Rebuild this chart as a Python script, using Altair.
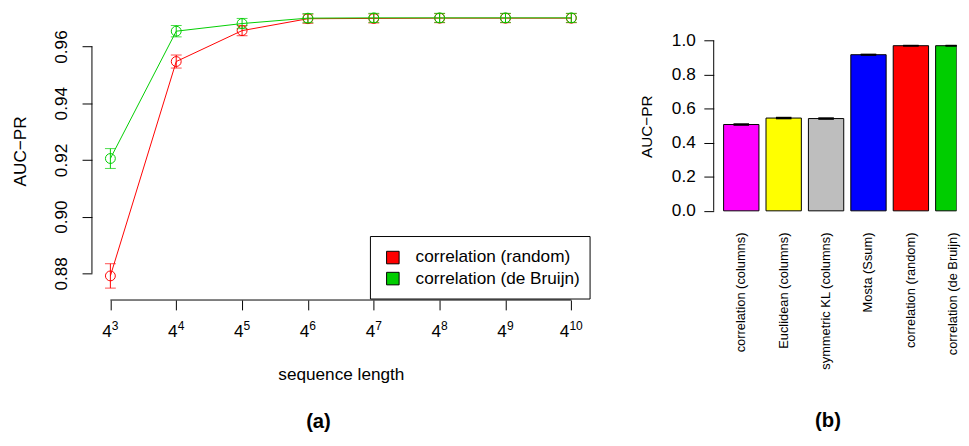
import altair as alt
import pandas as pd

FONT = "Liberation Sans"
FS = 17.4  # base font size (R cex = 1)

# ---------------- panel (a) data ----------------
exponents = [3, 4, 5, 6, 7, 8, 9, 10]
series_names = ["correlation (random)", "correlation (de Bruijn)"]
series_colors = ["#FF0000", "#00CD00"]
random_auc = [0.8791, 0.9547, 0.9656, 0.9698, 0.9699, 0.9700, 0.9700, 0.9700]
random_err = [0.0043, 0.0023, 0.0018, 0.0016, 0.0016, 0.0016, 0.0016, 0.0016]
debruijn_auc = [0.9205, 0.9654, 0.9681, 0.9700, 0.9701, 0.9701, 0.9701, 0.9701]
debruijn_err = [0.0035, 0.0020, 0.0018, 0.0016, 0.0016, 0.0016, 0.0016, 0.0016]
y_ticks_a = [0.88, 0.90, 0.92, 0.94, 0.96]

# ---------------- panel (b) data ----------------
methods = ["correlation (columns)", "Euclidean (columns)", "symmetric KL (columns)",
           "Mosta (Ssum)", "correlation (random)", "correlation (de Bruijn)"]
method_colors = ["#FF00FF", "#FFFF00", "#BEBEBE", "#0000FF", "#FF0000", "#00CD00"]
method_auc = [0.507, 0.545, 0.542, 0.917, 0.970, 0.970]
method_err = [0.003, 0.003, 0.003, 0.002, 0.001, 0.001]
y_ticks_b = [0.0, 0.2, 0.4, 0.6, 0.8, 1.0]

W_A, H_A = 504.1, 293.0
W_B, H_B = 246.0, 380.0

rows = []
for name, vals, errs in [(series_names[0], random_auc, random_err),
                         (series_names[1], debruijn_auc, debruijn_err)]:
    for e, v, er in zip(exponents, vals, errs):
        rows.append({"series": name, "exp": e, "auc": v, "lo": v - er, "hi": v + er})
df_a = pd.DataFrame(rows)

xs = alt.Scale(domain=[2.72, 10.28], nice=False, zero=False)
ys = alt.Scale(domain=[0.8706, 0.97264], nice=False, zero=False)
cs = alt.Scale(domain=series_names, range=series_colors)

x_enc = alt.X("exp:Q", scale=xs, axis=alt.Axis(
    values=exponents, labels=False, ticks=True, tickSize=10, tickColor="black",
    domain=False, grid=False, title="sequence length", titleFont=FONT,
    titleFontSize=FS, titleFontWeight="normal", titleColor="black",
    titleX=W_A / 2, titleY=75.7, titleBaseline="middle"))
y_enc = alt.Y("auc:Q", scale=ys, axis=alt.Axis(
    values=y_ticks_a, format=".2f", labelAngle=270, labelAlign="center",
    labelBaseline="middle", labelPadding=20.6, labelFont=FONT, labelFontSize=FS,
    labelColor="black", tickSize=10, tickColor="black", domain=False, grid=False,
    title="AUC\u2212PR", titleFont=FONT, titleFontSize=FS, titleFontWeight="normal",
    titleColor="black", titleX=-72.3, titleY=142, titleAngle=270,
    titleBaseline="middle", titleAlign="center"))

base = alt.Chart(df_a)
layers = []
for name in series_names:
    sub = base.transform_filter(alt.datum.series == name)
    col = alt.Color("series:N", scale=cs, legend=None)
    layers.append(sub.mark_rule(strokeWidth=1).encode(
        x=alt.X("exp:Q", scale=xs), y=alt.Y("lo:Q", scale=ys), y2="hi:Q", color=col))
    layers.append(sub.mark_tick(orient="horizontal", size=11, thickness=1).encode(
        x=alt.X("exp:Q", scale=xs), y=alt.Y("lo:Q", scale=ys), color=col))
    layers.append(sub.mark_tick(orient="horizontal", size=11, thickness=1).encode(
        x=alt.X("exp:Q", scale=xs), y=alt.Y("hi:Q", scale=ys), color=col))
    layers.append(sub.mark_line(strokeWidth=1).encode(x=x_enc, y=y_enc, color=col))
    layers.append(sub.mark_point(filled=False, size=100, strokeWidth=1, opacity=1).encode(
        x=x_enc, y=y_enc, color=col))

# axis lines (R style: only between the outer ticks)
axis_y_df = pd.DataFrame({"y": [min(y_ticks_a)], "y2": [max(y_ticks_a)]})
axis_x_df = pd.DataFrame({"x": [min(exponents)], "x2": [max(exponents)]})
layers.append(alt.Chart(axis_y_df).mark_rule(color="black", strokeWidth=1).encode(
    x=alt.value(0), y=alt.Y("y:Q", scale=ys), y2="y2:Q"))
layers.append(alt.Chart(axis_x_df).mark_rule(color="black", strokeWidth=1).encode(
    x=alt.X("x:Q", scale=xs), x2="x2:Q", y=alt.value(H_A)))

# x tick labels 4^n with superscripts
lab_df = pd.DataFrame({"exp": exponents, "sup": [str(e) for e in exponents]})
lab = alt.Chart(lab_df)
for cond, dx in [(alt.datum.exp < 10, 1.45), (alt.datum.exp >= 10, -1.95)]:
    layers.append(lab.transform_filter(cond).mark_text(
        text="4", align="right", baseline="alphabetic", dx=dx, font=FONT,
        fontSize=FS, color="black").encode(x=alt.X("exp:Q", scale=xs), y=alt.value(330.3)))
    layers.append(lab.transform_filter(cond).mark_text(
        align="left", baseline="alphabetic", dx=dx, font=FONT, fontSize=12.2,
        color="black").encode(x=alt.X("exp:Q", scale=xs), y=alt.value(323.5), text="sup:N"))

# legend box (bottom right, R style)
box_df = pd.DataFrame({"k": [0]})
layers.append(alt.Chart(box_df).mark_rect(fill="white", stroke="black", strokeWidth=1).encode(
    x=alt.value(282.0), x2=alt.value(504.4), y=alt.value(228.7), y2=alt.value(292.0)))
leg_df = pd.DataFrame({"series": series_names, "row": list(range(len(series_names)))})
leg = alt.Chart(leg_df).transform_calculate(ly="250 + 21.3 * datum.row")
layers.append(leg.mark_square(size=161, stroke="black", strokeWidth=1, opacity=1).encode(
    x=alt.value(304.7), y=alt.Y("ly:Q", scale=None),
    fill=alt.Color("series:N", scale=cs, legend=None)))
layers.append(leg.mark_text(align="left", baseline="middle", font=FONT, fontSize=FS,
                            color="black").encode(
    x=alt.value(327.7), y=alt.Y("ly:Q", scale=None), text="series:N"))

cap_a = pd.DataFrame({"t": ["(a)"]})
layers.append(alt.Chart(cap_a).mark_text(
    font=FONT, fontSize=20.5, fontWeight="bold", align="center", baseline="alphabetic",
    color="black").encode(x=alt.value(229.4), y=alt.value(423), text="t:N"))

panel_a = alt.layer(*layers).properties(width=W_A, height=H_A)

# ---------------- panel (b) ----------------
df_b = pd.DataFrame({"method": methods, "auc": method_auc, "idx": list(range(len(methods))),
                     "lo": [a - e for a, e in zip(method_auc, method_err)],
                     "hi": [a + e for a, e in zip(method_auc, method_err)]})
# R barplot geometry: width 1, space 0.2
bbase = alt.Chart(df_b).transform_calculate(
    left="0.2 + 1.2 * datum.idx", right="1.2 + 1.2 * datum.idx",
    mid="0.7 + 1.2 * datum.idx", capl="0.48 + 1.2 * datum.idx",
    capr="0.92 + 1.2 * datum.idx", base="0")
# the figure is cut at the right edge: clamp to the visible plot width
bxs = alt.Scale(domain=[-0.08, -0.08 + W_B / 35.78], nice=False, zero=False, clamp=True)
bys = alt.Scale(domain=[-(H_B - 202.7) / 172.4, 202.7 / 172.4], nice=False, zero=False)

by_axis = alt.Axis(
    values=y_ticks_b, format=".1f", labelFont=FONT, labelFontSize=FS,
    labelColor="black", labelPadding=8.7, tickSize=10, tickColor="black",
    domain=False, grid=False, title="AUC\u2212PR", titleFont=FONT, titleFontSize=15.5,
    titleFontWeight="normal", titleColor="black", titleX=-67.7, titleY=117,
    titleAngle=270, titleBaseline="middle", titleAlign="center")

bars = bbase.mark_bar(stroke="black", strokeWidth=1, opacity=1, clip=True).encode(
    x=alt.X("left:Q", scale=bxs, axis=None), x2="right:Q",
    y=alt.Y("auc:Q", scale=bys, axis=by_axis), y2="base:Q",
    color=alt.Color("method:N", scale=alt.Scale(domain=methods, range=method_colors),
                    legend=None))
berr = bbase.mark_rule(color="black", strokeWidth=1).encode(
    x=alt.X("mid:Q", scale=bxs), y=alt.Y("lo:Q", scale=bys), y2="hi:Q")
bcap1 = bbase.mark_rule(color="black", strokeWidth=1.5).encode(
    x=alt.X("capl:Q", scale=bxs), x2="capr:Q", y=alt.Y("lo:Q", scale=bys))
bcap2 = bbase.mark_rule(color="black", strokeWidth=1.5).encode(
    x=alt.X("capl:Q", scale=bxs), x2="capr:Q", y=alt.Y("hi:Q", scale=bys))
blabels = bbase.mark_text(angle=270, align="right", baseline="middle", font=FONT,
                          fontSize=13, color="black", dx=-1.0).encode(
    x=alt.X("mid:Q", scale=bxs), y=alt.value(223.7), text="method:N")
baxis_df = pd.DataFrame({"y": [min(y_ticks_b)], "y2": [max(y_ticks_b)]})
baxis = alt.Chart(baxis_df).mark_rule(color="black", strokeWidth=1).encode(
    x=alt.value(0), y=alt.Y("y:Q", scale=bys), y2="y2:Q")
cap_b = pd.DataFrame({"t": ["(b)"]})
btitle = alt.Chart(cap_b).mark_text(
    font=FONT, fontSize=20.5, fontWeight="bold", align="center", baseline="alphabetic",
    color="black").encode(x=alt.value(115.7), y=alt.value(422), text="t:N")

panel_b = alt.layer(bars, berr, bcap1, bcap2, blabels, baxis, btitle).properties(
    width=W_B, height=H_B)

chart = alt.hconcat(panel_a, panel_b, spacing=124.6, bounds="flush").resolve_scale(
    color="independent").properties(
    padding={"left": 3.0, "top": 0, "right": 0, "bottom": 0}
).configure(font=FONT, background="white").configure_view(strokeWidth=0, stroke=None)

chart.save("out.html", embed_options={"renderer": "svg", "actions": False})
